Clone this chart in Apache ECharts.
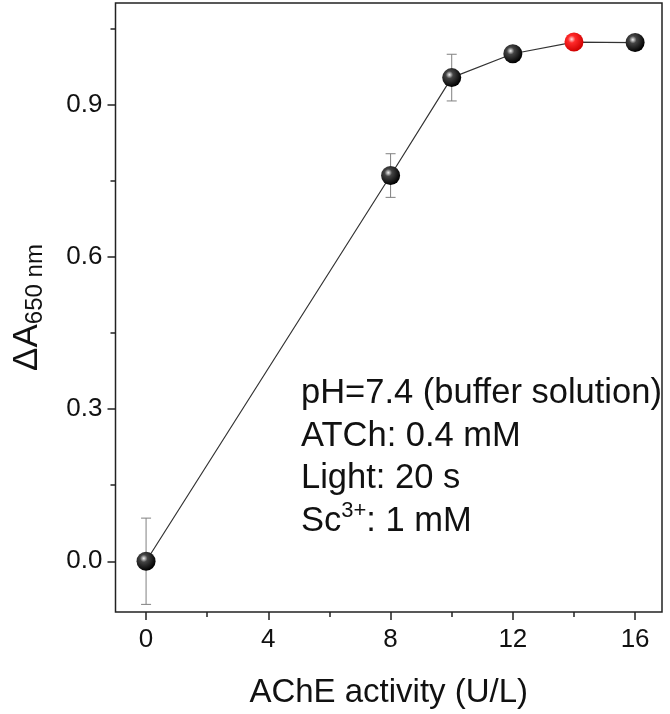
<!DOCTYPE html>
<html>
<head>
<meta charset="utf-8">
<script src="https://cdn.jsdelivr.net/npm/echarts@6/dist/echarts.min.js"></script>
<style>
    html, body { margin: 0; padding: 0; background: #fff; }
    #chart { width: 670px; height: 714px; }
</style>
</head>
<body>
<div id="chart"></div>
<script>
// 数据
var activity = [0, 8, 10, 12, 14, 16];
var deltaA = [0, 0.76, 0.953, 1.0, 1.023, 1.022];
var errBar = [0.085, 0.043, 0.046, 0.01, 0.008, 0.008];
var redPoint = 14;

var xTicks = [0, 4, 8, 12, 16];
var xMinor = [2, 6, 10, 14];
var yTicks = [0, 0.3, 0.6, 0.9];
var yMinor = [0.15, 0.45, 0.75, 1.05];

var noteLines = ['pH=7.4 (buffer solution)', 'ATCh: 0.4 mM', 'Light: 20 s'];

var FONT = '"Liberation Sans", Arial, sans-serif';

function ball(c0, c1, c2) {
    return {
        type: 'radial', x: 0.38, y: 0.35, r: 0.65,
        colorStops: [
            {offset: 0, color: c0},
            {offset: 0.3, color: c1},
            {offset: 1, color: c2}
        ]
    };
}
var blackBall = ball('#f2f2f2', '#444', '#000');
var redBall = ball('#ffe0e0', '#ff2a2a', '#d00000');

var pts = [];
var errs = [];
for (var i = 0; i < activity.length; i++) {
    var p = {value: [activity[i], deltaA[i]]};
    p.itemStyle = {color: activity[i] == redPoint ? redBall : blackBall};
    pts.push(p);
    errs.push([activity[i], deltaA[i] - errBar[i], deltaA[i] + errBar[i]]);
}

var myChart = echarts.init(document.getElementById('chart'));

var xMin = -1, xMax = 16.88, yMin = -0.1, yMax = 1.1;
var tickStyle = {color: '#222', width: 1.5};

var option = {
    backgroundColor: '#fff',
    animation: false,
    grid: {
        left: 115.5, top: 3, right: 8, bottom: 99,
        show: true, borderColor: '#222', borderWidth: 1.5
    },
    xAxis: [
        {
            type: 'value', min: xMin, max: xMax, position: 'bottom',
            axisLine: {show: false, onZero: false},
            splitLine: {show: false},
            axisTick: {show: true, length: 8, customValues: xTicks, lineStyle: tickStyle},
            axisLabel: {customValues: xTicks, margin: 15, fontSize: 26, color: '#111', fontFamily: FONT},
            name: 'AChE activity (U/L)',
            nameLocation: 'middle',
            nameGap: 64,
            nameTextStyle: {fontSize: 33, color: '#111', fontFamily: FONT}
        },
        {
            type: 'value', min: xMin, max: xMax, position: 'bottom',
            axisLine: {show: false, onZero: false},
            splitLine: {show: false},
            axisLabel: {show: false},
            axisTick: {show: true, length: 5, customValues: xMinor, lineStyle: tickStyle}
        }
    ],
    yAxis: [
        {
            type: 'value', min: yMin, max: yMax, position: 'left',
            axisLine: {show: false, onZero: false},
            splitLine: {show: false},
            axisTick: {show: true, length: 8, customValues: yTicks, lineStyle: tickStyle},
            axisLabel: {
                customValues: yTicks, margin: 13, fontSize: 26, color: '#111', fontFamily: FONT,
                formatter: function (v) { return v.toFixed(1); }
            },
            name: '{a|ΔA}{s|650 nm}',
            nameLocation: 'middle',
            nameGap: 68,
            nameTextStyle: {
                fontFamily: FONT, color: '#111',
                rich: {
                    a: {fontSize: 35, lineHeight: 40, fontFamily: FONT, color: '#111'},
                    s: {fontSize: 24, lineHeight: 18, verticalAlign: 'bottom', fontFamily: FONT, color: '#111'}
                }
            }
        },
        {
            type: 'value', min: yMin, max: yMax, position: 'left',
            axisLine: {show: false, onZero: false},
            splitLine: {show: false},
            axisLabel: {show: false},
            axisTick: {show: true, length: 5, customValues: yMinor, lineStyle: tickStyle}
        }
    ],
    graphic: [
        {
            type: 'text',
            left: 301,
            top: 376,
            z: 10,
            style: {
                text: noteLines.map(function (t) { return '{t|' + t + '}'; }).join('\n') +
                    '\n{t|Sc}{sup|3+}{t|: 1 mM}',
                fill: '#111',
                font: '34px ' + FONT,
                rich: {
                    t: {fontSize: 34.5, lineHeight: 42.5, fontFamily: FONT, fill: '#111'},
                    sup: {fontSize: 22, lineHeight: 24, verticalAlign: 'top', fontFamily: FONT, fill: '#111'}
                }
            }
        }
    ],
    series: [
        {
            type: 'custom',
            z: 1,
            data: errs,
            encode: {x: 0, y: [1, 2]},
            renderItem: function (params, api) {
                var lo = api.coord([api.value(0), api.value(1)]);
                var hi = api.coord([api.value(0), api.value(2)]);
                var w = 5;
                var st = {stroke: '#808080', lineWidth: 1};
                return {
                    type: 'group',
                    children: [
                        {type: 'line', shape: {x1: lo[0], y1: lo[1], x2: hi[0], y2: hi[1]}, style: st},
                        {type: 'line', shape: {x1: lo[0] - w, y1: lo[1], x2: lo[0] + w, y2: lo[1]}, style: st},
                        {type: 'line', shape: {x1: hi[0] - w, y1: hi[1], x2: hi[0] + w, y2: hi[1]}, style: st}
                    ]
                };
            }
        },
        {
            type: 'line',
            z: 2,
            data: pts,
            symbol: 'circle',
            symbolSize: 19,
            lineStyle: {color: '#333', width: 1.2},
            itemStyle: {color: blackBall}
        }
    ]
};

myChart.setOption(option);
</script>
</body>
</html>
